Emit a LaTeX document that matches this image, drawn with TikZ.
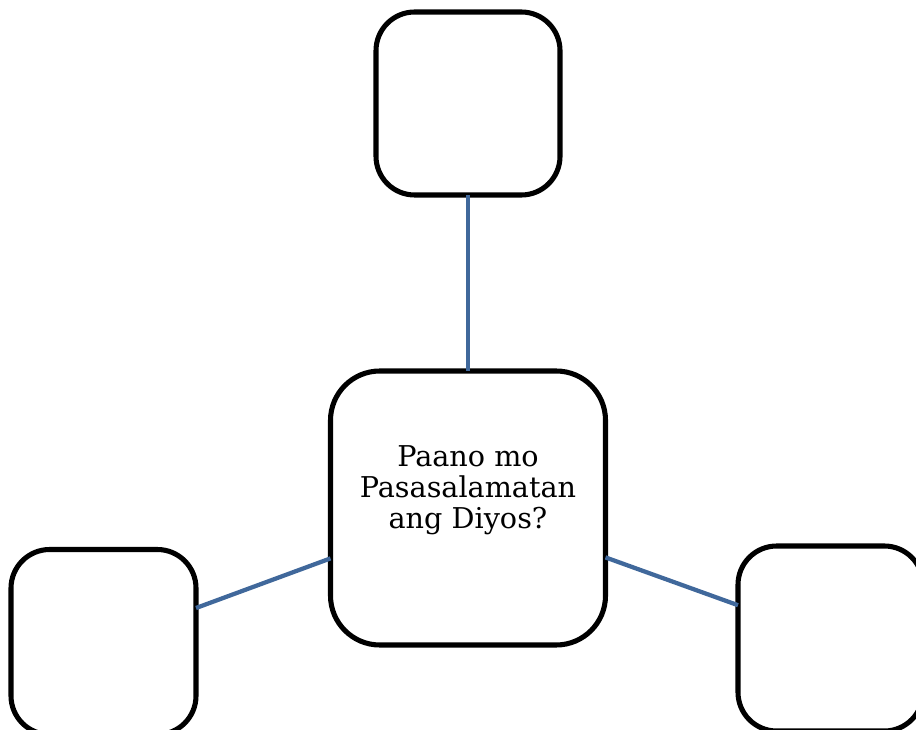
\documentclass[tikz,border=0pt]{standalone}
\usepackage{fontspec}
\setmainfont{DejaVu Serif}
\definecolor{linkblue}{RGB}{64,104,155}
\begin{document}
\begin{tikzpicture}[x=0.75pt,y=-0.75pt,
  box/.style={draw=black,line width=3.8pt,fill=white,inner sep=0pt,outer sep=0pt,rectangle},
  link/.style={draw=linkblue,line width=3.2pt}]
\useasboundingbox (0,0) rectangle (916,730);
\clip (0,0) rectangle (916,730);
\node[box,minimum width=138pt,minimum height=137.25pt,rounded corners=29pt] (top) at (468,103.5) {};
\node[box,minimum width=206.25pt,minimum height=205.5pt,rounded corners=37pt] (mid) at (468,508) {};
\node[box,minimum width=138.75pt,minimum height=138.75pt,rounded corners=29pt] (left) at (103.5,642) {};
\node[box,minimum width=138.75pt,minimum height=138.75pt,rounded corners=29pt] (right) at (830.5,638.5) {};
\node[align=center,inner sep=0pt,font=\fontsize{21.5}{23.3}\selectfont] (q) at (468,490) {Paano mo\\Pasasalamatan\\ang Diyos?};
\draw[link] (top) -- (mid);
\draw[link] (left) -- (mid);
\draw[link] (mid) -- (right);
\end{tikzpicture}
\end{document}
